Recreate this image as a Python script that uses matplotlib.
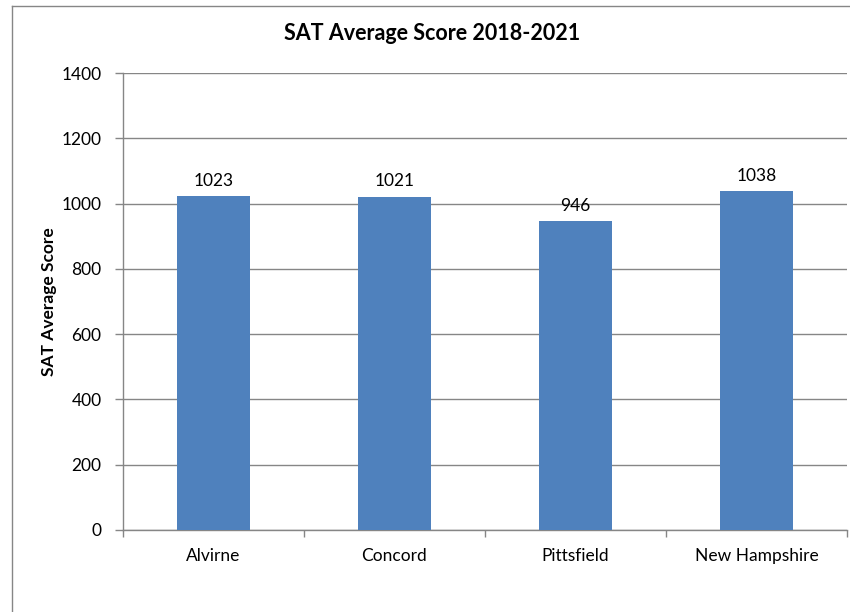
import matplotlib
matplotlib.use("Agg")
import matplotlib.pyplot as plt
from matplotlib.lines import Line2D

# data
schools = ["Alvirne", "Concord", "Pittsfield", "New Hampshire"]
scores = [1023, 1021, 946, 1038]
yticks = [0, 200, 400, 600, 800, 1000, 1200, 1400]

plt.rcParams['font.family'] = ['Lato', 'DejaVu Sans']
grid_col = '#868686'
bar_col = '#4F81BD'
fs = 12.5

fig = plt.figure(figsize=(8.5, 6.12), dpi=100)
# outer chart border, only left and top show (screenshot is cropped)
bx = 11.5 / 850
by = 1 - 5.5 / 612
fig.add_artist(Line2D([bx, bx], [0, by], transform=fig.transFigure,
                      color=grid_col, linewidth=1.0))
fig.add_artist(Line2D([bx, 1], [by, by], transform=fig.transFigure,
                      color=grid_col, linewidth=1.0))

ax = fig.add_axes([123 / 850, (612 - 530) / 612, (847 - 123) / 850, (530 - 73) / 612])
x = range(len(schools))
bars = ax.bar(x, scores, width=0.4, color=bar_col, zorder=3)

for xi, v in zip(x, scores):
    ax.annotate(str(v), (xi, v), xytext=(0, 11), textcoords='offset points',
                ha='center', va='center', fontsize=fs)

ax.set_ylim(0, 1400)
ax.set_xlim(-0.5, len(schools) - 0.5)
ax.set_yticks(yticks)
ax.set_yticklabels([str(t) for t in yticks], fontsize=fs)
ax.yaxis.grid(True, color=grid_col, linewidth=1.0, zorder=0)
ax.set_axisbelow(True)

# category labels centered, ticks at boundaries
ax.set_xticks(list(x))
ax.set_xticklabels(schools, fontsize=fs)
ax.tick_params(axis='x', length=0, pad=13)
ax.set_xticks([i - 0.5 for i in range(len(schools) + 1)], minor=True)
ax.tick_params(axis='x', which='minor', length=5, color=grid_col, width=1.0)
ax.tick_params(axis='y', length=6, color=grid_col, width=1.0, pad=9.5)

for s in ['top', 'right']:
    ax.spines[s].set_visible(False)
for s in ['left', 'bottom']:
    ax.spines[s].set_color(grid_col)
    ax.spines[s].set_linewidth(1.0)

ax.set_ylabel("SAT Average Score", fontsize=fs, fontweight='bold', labelpad=3)
fig.text(432 / 850, 1 - 33 / 612, "SAT Average Score 2018-2021",
         ha='center', va='center', fontsize=15.5, fontweight='bold')

fig.savefig("out.png", dpi=100)
